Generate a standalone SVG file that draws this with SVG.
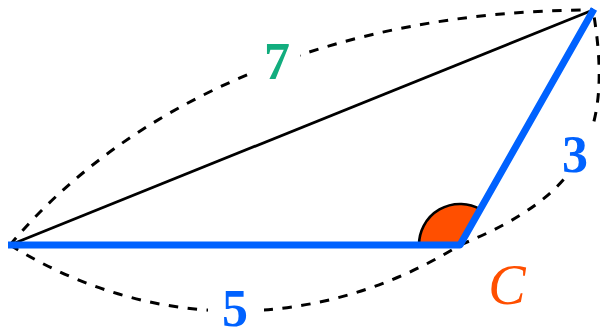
<svg xmlns="http://www.w3.org/2000/svg" width="600" height="331" viewBox="0 0 600 331">
  <style>
    .dash { fill: none; stroke: #000; stroke-width: 3; stroke-dasharray: 9.5 9.5; }
    .side { fill: none; stroke: #0062FF; stroke-width: 7; stroke-linejoin: round; }
    .thin { fill: none; stroke: #000; stroke-width: 2.8; }
    .bg { fill: #fff; stroke: none; }
    .num { font-family: "Liberation Serif", "DejaVu Serif", serif; font-weight: bold; font-size: 52px; text-anchor: middle; }
    .ang { font-family: "Liberation Serif", "DejaVu Serif", serif; font-style: italic; font-size: 56px; text-anchor: middle; fill: #FF4F00; }
  </style>
  <rect width="600" height="331" fill="#fff"/>
  <g id="connectors">
    <path class="dash" d="M10,245 C129,103 333,10 593,10"/>
    <path class="dash" d="M10,245 C152,333 318,333 460,245"/>
    <path class="dash" d="M460,245 C580,196 615,138 593,10"/>
    <path class="thin" d="M10,245 L593,10"/>
  </g>
  <g id="angle-C">
    <path d="M460,245 L419,245 A41,41 0 0 1 480.4,209.4 Z" fill="#FF4F00" stroke="#000" stroke-width="2.6"/>
  </g>
  <g id="sides">
    <path class="side" d="M8,245 L460,245 L594,9"/>
  </g>
  <g id="label-7">
    <rect class="bg" x="250" y="35" width="50" height="52"/>
    <text class="num" x="277" y="78.5" fill="#12AD7E">7</text>
  </g>
  <g id="label-5">
    <rect class="bg" x="208" y="286" width="56" height="45"/>
    <text class="num" x="235" y="326" fill="#0062FF">5</text>
  </g>
  <g id="label-3">
    <rect class="bg" x="553" y="128" width="45" height="49"/>
    <text class="num" x="575" y="171.5" fill="#0062FF">3</text>
  </g>
  <g id="label-C">
    <text class="ang" x="507" y="303.5">C</text>
  </g>
</svg>
